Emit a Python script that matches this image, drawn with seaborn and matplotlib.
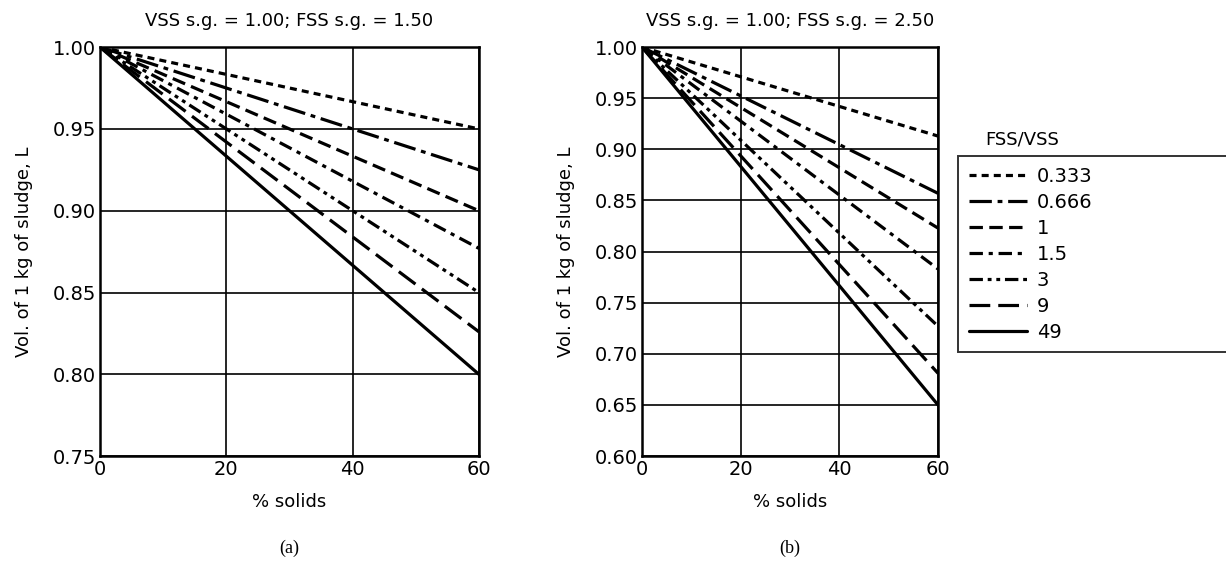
import pandas as pd
import numpy as np
import seaborn as sns
import matplotlib.pyplot as plt

# FSS/VSS ratios and line end values at 60 % solids (all lines start at 1.00)
ratios = ["0.333", "0.666", "1", "1.5", "3", "9", "49"]
solids = [0, 60]
end_a = [0.950, 0.925, 0.900, 0.877, 0.850, 0.826, 0.800]  # FSS s.g. = 1.50
end_b = [0.913, 0.857, 0.823, 0.783, 0.727, 0.681, 0.650]  # FSS s.g. = 2.50
x_ticks = [0, 20, 40, 60]
y_ticks_a = [0.75, 0.80, 0.85, 0.90, 0.95, 1.00]
y_ticks_b = [0.60, 0.65, 0.70, 0.75, 0.80, 0.85, 0.90, 0.95, 1.00]

dash_map = {
    "0.333": (2.2, 1.6),
    "0.666": (7, 1.8, 1.5, 1.8),
    "1": (4.2, 2.0),
    "1.5": (4.2, 1.8, 1.3, 1.8),
    "3": (4.2, 1.5, 1.2, 1.5, 1.2, 1.5),
    "9": (6.5, 2.5),
    "49": "",
}


def long_form(ends):
    rows = []
    for r, e in zip(ratios, ends):
        rows.append({"ratio": r, "solids": solids[0], "vol": 1.0})
        rows.append({"ratio": r, "solids": solids[1], "vol": e})
    return pd.DataFrame(rows)


sns.set_style("white")
plt.rcParams["font.family"] = ["DejaVu Sans"]
plt.rcParams["text.color"] = "black"
plt.rcParams["axes.labelcolor"] = "black"

fig = plt.figure(figsize=(12.26, 5.61), dpi=100)
ax1 = fig.add_axes([0.0816, 0.187, 0.309, 0.729])
ax2 = fig.add_axes([0.5237, 0.187, 0.2414, 0.729])

panels = [
    (ax1, end_a, y_ticks_a, "VSS s.g. = 1.00; FSS s.g. = 1.50", "(a)"),
    (ax2, end_b, y_ticks_b, "VSS s.g. = 1.00; FSS s.g. = 2.50", "(b)"),
]

for ax, ends, yt, title, tag in panels:
    df = long_form(ends)
    sns.lineplot(data=df, x="solids", y="vol", style="ratio", style_order=ratios,
                 dashes=dash_map, color="black", linewidth=2.3, ax=ax,
                 legend=(ax is ax2))
    ax.set_xlim(0, 60)
    ax.set_ylim(yt[0], yt[-1])
    ax.set_xticks(x_ticks)
    ax.set_yticks(yt)
    ax.set_yticklabels([f"{v:.2f}" for v in yt])
    ax.grid(True, color="black", linewidth=1.2)
    for s in ax.spines.values():
        s.set_color("black")
        s.set_linewidth(1.8)
    ax.tick_params(length=0, labelsize=14, pad=3, colors="black")
    ax.set_xlabel("% solids", fontsize=13, labelpad=10)
    ax.set_ylabel("Vol. of 1 kg of sludge, L", fontsize=13, labelpad=14)
    ax.set_title(title, fontsize=13, pad=15)
    ax.text(0.5, -0.225, tag, transform=ax.transAxes, ha="center", va="center",
            fontsize=13, family=["Liberation Serif", "DejaVu Serif"])

handles, labels = ax2.get_legend_handles_labels()
ax2.get_legend().remove()
for h in handles:
    h.set_linewidth(2.3)
leg = fig.legend(handles, labels, loc="upper left",
                 bbox_to_anchor=(0.7815, 0.38, 0.25, 0.342),
                 mode="expand", frameon=True, fancybox=False, edgecolor="black",
                 fontsize=14, handlelength=3.0, handletextpad=0.5, labelspacing=0.36,
                 borderpad=0.55, borderaxespad=0)
leg.get_frame().set_linewidth(1.4)
fig.text(0.834, 0.752, "FSS/VSS", ha="center", va="center", fontsize=13)

plt.savefig("out.png", dpi=100)
plt.close()
